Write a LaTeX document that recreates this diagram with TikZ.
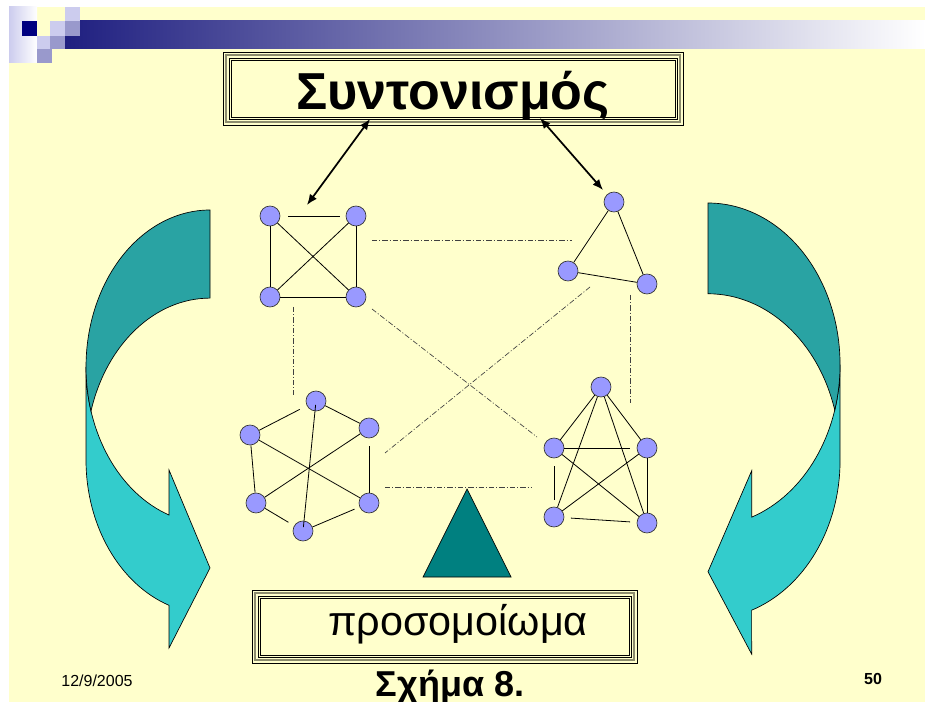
\documentclass[tikz,border=0pt]{standalone}
\usepackage{fontspec}
\setmainfont{Liberation Sans}
\usepackage{xcolor}
\usetikzlibrary{arrows.meta}

\definecolor{slidebg}{HTML}{FFFFCC}
\definecolor{navy}{HTML}{000080}
\definecolor{lav}{HTML}{CCCCEE}
\definecolor{lavmid}{HTML}{9999CC}
\definecolor{barblue}{HTML}{1F1F80}
\definecolor{vertexblue}{HTML}{9999FF}
\definecolor{tealdark}{HTML}{29A3A3}
\definecolor{teallight}{HTML}{33CCCC}
\definecolor{tealtri}{HTML}{008080}
\definecolor{frameolive}{HTML}{8C8C6E}

\tikzset{
  vertex/.style={circle,draw=black!80,fill=vertexblue,minimum size=15pt,inner sep=0pt,line width=0.5pt},
  edge/.style={line width=0.6pt},
  link/.style={line width=0.5pt,black!75,dash pattern=on 4pt off 1.5pt on 0.8pt off 1.5pt},
  dblarrow/.style={line width=1.3pt,{Latex[length=8pt,width=6.5pt]}-{Latex[length=8pt,width=6.5pt]}},
  bendarrow/.style={draw=black,line width=0.5pt},
}

\begin{document}
\begin{tikzpicture}[x=0.75pt,y=-0.75pt]
\useasboundingbox (0,0) rectangle (925,702);
% slide background and top bar
\fill[white] (0,0) rectangle (925,702);
\fill[slidebg] (9,7) rectangle (925,702);
\shade[left color=barblue,right color=white] (65,21) rectangle (925,49);
\shade[left color=lav,right color=white] (9,7) rectangle (37,63);
\fill[navy] (22,21) rectangle (37,36);
\fill[lav] (65,7) rectangle (80,21);
\fill[lav] (50,21) rectangle (65,36);
\fill[lav] (37,36) rectangle (50,49);
\fill[lavmid] (65,21) rectangle (80,36);
\fill[lavmid] (50,36) rectangle (65,49);
\fill[lavmid] (37,49) rectangle (52,63);

% title box
\draw[frameolive,line width=2.2pt] (226,55) rectangle (680,122);
\draw[black,line width=0.5pt] (223,52) rectangle (683,125);
\draw[black,line width=0.5pt] (229,58) rectangle (677,119);
\draw[black,line width=0.5pt] (231,60) rectangle (675,117);
\node (title) at (453,110) [anchor=base] {\fontsize{39pt}{39pt}\selectfont\bfseries Συντονισμός};

% bottom box
\draw[frameolive,line width=2.2pt] (255,593) rectangle (634,660);
\draw[black,line width=0.5pt] (252,590) rectangle (637,663);
\draw[black,line width=0.5pt] (258,596) rectangle (631,657);
\draw[black,line width=0.5pt] (260,598) rectangle (629,655);
\node (model) at (458,635) [anchor=base] {\fontsize{31pt}{31pt}\selectfont προσομοίωμα};

% footer
\node (fig) at (450,696) [anchor=base] {\fontsize{27pt}{27pt}\selectfont\bfseries Σχήμα 8.};
\node (date) at (97,686) [anchor=base] {\fontsize{12pt}{12pt}\selectfont 12/9/2005};
\node (page) at (873,684) [anchor=base] {\fontsize{12pt}{12pt}\selectfont\bfseries 50};

% left bent arrow
\begin{scope}[shift={(210,210)}]
\draw[bendarrow,fill=teallight] (-124,157) -- (-124,250)
  arc[start angle=180,end angle=109.3,x radius=124,y radius=154]
  -- (-41,438) -- (0,358) -- (-41,260) -- (-41,305)
  arc[start angle=109.3,end angle=180,x radius=124,y radius=157] -- cycle;
\draw[bendarrow,fill=tealdark] (0,0)
  arc[start angle=270,end angle=163.7,x radius=124,y radius=157]
  arc[start angle=196.3,end angle=270,x radius=124,y radius=157] -- cycle;
\end{scope}

% right bent arrow
\begin{scope}[shift={(708,203)},xscale=-1.065,yscale=1.03]
\draw[bendarrow,fill=teallight] (-124,157) -- (-124,250)
  arc[start angle=180,end angle=109.3,x radius=124,y radius=154]
  -- (-41,438) -- (0,358) -- (-41,260) -- (-41,305)
  arc[start angle=109.3,end angle=180,x radius=124,y radius=157] -- cycle;
\draw[bendarrow,fill=tealdark] (0,0)
  arc[start angle=270,end angle=163.7,x radius=124,y radius=157]
  arc[start angle=196.3,end angle=270,x radius=124,y radius=157] -- cycle;
\end{scope}

% triangle
\draw[fill=tealtri,line width=0.5pt] (467,489) -- (511,577) -- (423,577) -- cycle;

% links between the graphs
\coordinate (l1a) at (372,240); \coordinate (l1b) at (572,240);
\coordinate (l2a) at (293,307); \coordinate (l2b) at (293,395);
\coordinate (l3a) at (372,309); \coordinate (l3b) at (537,437);
\coordinate (l4a) at (590,287); \coordinate (l4b) at (385,453);
\coordinate (l5a) at (630,295); \coordinate (l5b) at (630,403);
\coordinate (l6a) at (385,487); \coordinate (l6b) at (532,487);
\draw[link] (l1a) -- (l1b);
\draw[link] (l2a) -- (l2b);
\draw[link] (l3a) -- (l3b);
\draw[link] (l4a) -- (l4b);
\draw[link] (l5a) -- (l5b);
\draw[link] (l6a) -- (l6b);

% graph a
\node (a1) at (270,216) [vertex] {};
\node (a2) at (356,216) [vertex] {};
\node (a3) at (270,297) [vertex] {};
\node (a4) at (356,297) [vertex] {};
\draw[edge,shorten <=6pt,shorten >=4pt] (a1) -- (a2);
\draw[edge] (a1) -- (a3);
\draw[edge] (a3) -- (a4);
\draw[edge] (a2) -- (a4);
\draw[edge] (a1) -- (a4);
\draw[edge] (a2) -- (a3);

% graph b
\node (b1) at (614,202) [vertex] {};
\node (b2) at (568,271) [vertex] {};
\node (b3) at (647,284) [vertex] {};
\draw[edge] (b1) -- (b2);
\draw[edge] (b1) -- (b3);
\draw[edge] (b2) -- (b3);

% graph c
\node (c1) at (316,401) [vertex] {};
\node (c2) at (369,428) [vertex] {};
\node (c3) at (250,435) [vertex] {};
\node (c4) at (256,503) [vertex] {};
\node (c5) at (369,503) [vertex] {};
\node (c6) at (303,531) [vertex] {};
\draw[edge,shorten >=6pt] (c3) -- (c1);
\draw[edge] (c1) -- (c2);
\draw[edge] (c3) -- (c4);
\draw[edge,shorten <=6pt] (c2) -- (c5);
\draw[edge,shorten >=5pt] (c4) -- (c6);
\draw[edge,shorten >=4pt] (c6) -- (c5);
\draw[edge] (c3) -- (c5);
\draw[edge] (c2) -- (c4);
\draw[edge,shorten <=3pt,shorten >=3pt] (c1.center) -- (c6.center);

% graph d
\node (d1) at (601,387) [vertex] {};
\node (d2) at (554,448) [vertex] {};
\node (d3) at (647,448) [vertex] {};
\node (d4) at (554,517) [vertex] {};
\node (d5) at (647,523) [vertex] {};
\draw[edge] (d1) -- (d2);
\draw[edge] (d1) -- (d3);
\draw[edge] (d1) -- (d4);
\draw[edge] (d1) -- (d5);
\draw[edge,shorten >=5pt] (d2) -- (d3);
\draw[edge] (d2) -- (d5);
\draw[edge] (d3) -- (d4);
\draw[edge,shorten <=6pt,shorten >=5pt] (d2) -- (d4);
\draw[edge] (d3) -- (d5);
\draw[edge,shorten <=5pt,shorten >=5pt] (d4) -- (d5);

% arrows from the title
\coordinate (t1) at (370,119); \coordinate (t2) at (307,205);
\coordinate (t3) at (540,118); \coordinate (t4) at (603,190);
\draw[dblarrow] (t1) -- (t2);
\draw[dblarrow] (t3) -- (t4);
\end{tikzpicture}
\end{document}
